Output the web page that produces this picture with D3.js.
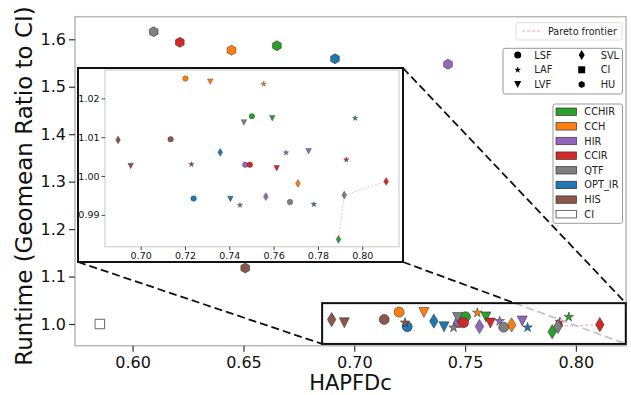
<!DOCTYPE html>
<html>
<head>
<meta charset="utf-8">
<script src="https://cdn.jsdelivr.net/npm/d3@7"></script>
<style>
  body { margin: 0; background: #fff; }
  svg { font-family: "DejaVu Sans", sans-serif; }
</style>
</head>
<body>
<svg id="chart" width="631" height="395"></svg>
<script>
// methods (colour groups) and strategies (marker shapes)
const methods = ["CCHIR", "CCH", "HIR", "CCIR", "QTF", "OPT_IR", "HIS"];
const strategies = ["LSF", "LAF", "LVF", "SVL", "HU"];

// values per strategy, in the order of `methods`
const hapfdLSF   = [0.7502, 0.7202, 0.7472, 0.7493, 0.7674, 0.7239, 0.7135];
const runtimeLSF = [1.0154, 1.0251, 1.0029, 1.0029, 0.9933, 0.9942, 1.0095];
const hapfdLAF   = [0.7968, 0.7555, 0.7656, 0.7928, 0.7448, 0.7782, 0.7229];
const runtimeLAF = [1.0149, 1.0237, 1.0060, 1.0042, 0.9925, 0.9927, 1.0030];
const hapfdLVF   = [0.7594, 0.7314, 0.7758, 0.7614, 0.7466, 0.7405, 0.6955];
const runtimeLVF = [1.0149, 1.0243, 1.0064, 1.0020, 1.0138, 0.9941, 1.0026];
const hapfdSVL   = [0.7893, 0.7710, 0.7565, 0.8108, 0.7919, 0.7359, 0.6898];
const runtimeSVL = [0.9837, 0.9981, 0.9947, 0.9986, 0.9951, 1.0061, 1.0093];
const hapfdHU    = [0.6651, 0.6446, 0.7423, 0.6213, 0.6095, 0.6913, 0.6508];
const runtimeHU  = [1.5865, 1.5770, 1.5475, 1.5935, 1.6160, 1.5590, 1.1180];
// the CI baseline
const hapfdCI = 0.5852;
const runtimeCI = 1.0;

const xTicks = [0.60, 0.65, 0.70, 0.75, 0.80];
const yTicks = [1.0, 1.1, 1.2, 1.3, 1.4, 1.5, 1.6];
const insetXTicks = [0.70, 0.72, 0.74, 0.76, 0.78, 0.80];
const insetYTicks = [0.99, 1.00, 1.01, 1.02];

// styles
const methodColors = ["#2ca02c", "#ff7f0e", "#9467bd", "#d62728", "#7f7f7f", "#1f77b4", "#8c564b"];
const shapeOf = {LSF: "o", LAF: "*", LVF: "v", SVL: "d", CI: "s", HU: "h"};

const hapfdBy = {LSF: hapfdLSF, LAF: hapfdLAF, LVF: hapfdLVF, SVL: hapfdSVL, HU: hapfdHU};
const runtimeBy = {LSF: runtimeLSF, LAF: runtimeLAF, LVF: runtimeLVF, SVL: runtimeSVL, HU: runtimeHU};

let points = [];
methods.forEach((m, i) => {
    strategies.forEach(s => {
        points.push({method: m, strategy: s, color: methodColors[i], x: hapfdBy[s][i], y: runtimeBy[s][i]});
    });
});

// pareto frontier: max HAPFDc, min runtime
let frontier = [];
let best = Infinity;
points.slice().sort((a, b) => b.x - a.x).forEach(p => {
    if (p.y < best) { frontier.push(p); best = p.y; }
});
frontier.sort((a, b) => a.x - b.x);

function markerPath(shape, s) {
    const r = s / 2;
    if (shape === "o") {
        const p = d3.path();
        p.arc(0, 0, r, 0, 2 * Math.PI);
        p.closePath();
        return p.toString();
    }
    let pts;
    if (shape === "v") pts = [[-r, -r], [r, -r], [0, r]];
    else if (shape === "s") pts = [[-r, -r], [r, -r], [r, r], [-r, r]];
    else if (shape === "d") {
        const h = s * Math.SQRT1_2;
        pts = [[0, -h], [0.6 * h, 0], [0, h], [-0.6 * h, 0]];
    }
    else if (shape === "h") pts = d3.range(6).map(k => {
        const a = -Math.PI / 2 + k * Math.PI / 3;
        return [r * Math.cos(a), r * Math.sin(a)];
    });
    else pts = d3.range(10).map(k => {
        const a = -Math.PI / 2 + k * Math.PI / 5, rr = k % 2 ? r * 0.381966 : r;
        return [rr * Math.cos(a), rr * Math.sin(a)];
    });
    return "M" + pts.map(q => q[0].toFixed(2) + "," + q[1].toFixed(2)).join("L") + "Z";
}

const svg = d3.select("#chart");

// ---- main axes ----
const x = d3.scaleLinear().domain([0.574, 0.8226]).range([75, 626]);
const y = d3.scaleLinear().domain([0.9543, 1.6476]).range([345.7, 16.7]);

svg.append("rect")
    .attr("x", x.range()[0]).attr("y", y.range()[1])
    .attr("width", x.range()[1] - x.range()[0]).attr("height", y.range()[0] - y.range()[1])
    .attr("fill", "#fff").attr("stroke", "#b8b8b8").attr("stroke-width", 1.5);

const gx = svg.append("g").attr("transform", "translate(0," + y.range()[0] + ")")
    .call(d3.axisBottom(x).tickValues(xTicks).tickFormat(d3.format(".2f")).tickSize(6).tickPadding(5));
const gy = svg.append("g").attr("transform", "translate(" + x.range()[0] + ",0)")
    .call(d3.axisLeft(y).tickValues(yTicks).tickFormat(d3.format(".1f")).tickSize(6).tickPadding(3));
[gx, gy].forEach(g => {
    g.select(".domain").remove();
    g.selectAll(".tick line").attr("stroke", "#333").attr("stroke-width", 1.2);
    g.selectAll("text").attr("font-size", 16).attr("fill", "#111").attr("font-family", "DejaVu Sans");
});

svg.append("text").attr("x", 350.5).attr("y", 390).attr("text-anchor", "middle")
    .attr("font-size", 21).attr("fill", "#111").text("HAPFDc");
svg.append("text").attr("transform", "translate(32,186) rotate(-90)").attr("text-anchor", "middle")
    .attr("font-size", 23).attr("fill", "#111").text("Runtime (Geomean Ratio to CI)");

const line = d3.line().x(d => x(d.x)).y(d => y(d.y));

svg.append("path").datum(frontier).attr("d", line)
    .attr("fill", "none").attr("stroke", "#f08080").attr("stroke-opacity", 0.7)
    .attr("stroke-width", 1).attr("stroke-dasharray", "3,2");

svg.append("g").selectAll("path").data(points).join("path")
    .attr("transform", d => "translate(" + x(d.x) + "," + y(d.y) + ")")
    .attr("d", d => markerPath(shapeOf[d.strategy], 10))
    .attr("fill", d => d.color).attr("stroke", "#222").attr("stroke-width", 0.5);

svg.append("path")
    .attr("transform", "translate(" + x(hapfdCI) + "," + y(runtimeCI) + ")")
    .attr("d", markerPath("s", 9.5))
    .attr("fill", "#fff").attr("stroke", "#444").attr("stroke-width", 0.8);

// ---- zoom indicator ----
const zoomX = [0.6855, 0.8225], zoomY = [0.958, 1.044];
const bx0 = x(zoomX[0]), bx1 = x(zoomX[1]), by0 = y(zoomY[1]), by1 = y(zoomY[0]);
const inset = {x0: 78, y0: 68, x1: 403, y1: 262};

function dashLine(a, b, color) {
    svg.append("line").attr("x1", a[0]).attr("y1", a[1]).attr("x2", b[0]).attr("y2", b[1])
        .attr("stroke", color).attr("stroke-width", 1.8).attr("stroke-dasharray", "8,4");
}
dashLine([inset.x0, inset.y1], [bx0, by1], "#111");
dashLine([inset.x1, inset.y0], [bx1, by0], "#111");
// lower-right connector: black outside the box, grey inside
const t = (by0 - inset.y1) / (by1 - inset.y1);
const mid = [inset.x1 + t * (bx1 - inset.x1), by0];
dashLine([inset.x1, inset.y1], mid, "#111");
dashLine(mid, [bx1, by1], "#c4c4c4");

svg.append("rect").attr("x", bx0).attr("y", by0).attr("width", bx1 - bx0).attr("height", by1 - by0)
    .attr("fill", "none").attr("stroke", "#111").attr("stroke-width", 2);

// ---- inset ----
svg.append("rect").attr("x", inset.x0).attr("y", inset.y0)
    .attr("width", inset.x1 - inset.x0).attr("height", inset.y1 - inset.y0)
    .attr("fill", "#fff").attr("stroke", "#111").attr("stroke-width", 2);

const xi = d3.scaleLinear().domain([0.6839, 0.8166]).range([105, 399]);
const yi = d3.scaleLinear().domain([0.9818, 1.0273]).range([246.7, 70]);

svg.append("rect").attr("x", 105).attr("y", 70).attr("width", 294).attr("height", 176.7)
    .attr("fill", "#fff").attr("stroke", "#d0d0d0").attr("stroke-width", 1.2);

const gxi = svg.append("g").attr("transform", "translate(0," + yi.range()[0] + ")")
    .call(d3.axisBottom(xi).tickValues(insetXTicks).tickFormat(d3.format(".2f")).tickSize(3.5).tickPadding(2));
const gyi = svg.append("g").attr("transform", "translate(" + xi.range()[0] + ",0)")
    .call(d3.axisLeft(yi).tickValues(insetYTicks).tickFormat(d3.format(".2f")).tickSize(3.5).tickPadding(2));
[gxi, gyi].forEach(g => {
    g.select(".domain").remove();
    g.selectAll(".tick line").attr("stroke", "#333").attr("stroke-width", 0.9);
    g.selectAll("text").attr("font-size", 9.5).attr("fill", "#111").attr("font-family", "DejaVu Sans");
});

const linei = d3.line().x(d => xi(d.x)).y(d => yi(d.y));
svg.append("path").datum(frontier).attr("d", linei)
    .attr("fill", "none").attr("stroke", "#f08080").attr("stroke-opacity", 0.6)
    .attr("stroke-width", 0.8).attr("stroke-dasharray", "2,1.5");

svg.append("g").selectAll("path")
    .data(points.filter(d => d.x >= xi.domain()[0] && d.y <= yi.domain()[1] && d.y >= yi.domain()[0]))
    .join("path")
    .attr("transform", d => "translate(" + xi(d.x) + "," + yi(d.y) + ")")
    .attr("d", d => markerPath(shapeOf[d.strategy], 5.5))
    .attr("fill", d => d.color).attr("stroke", "#222").attr("stroke-width", 0.35);

// ---- legends ----
function legendBox(x0, y0, x1, y1, stroke) {
    svg.append("rect").attr("x", x0).attr("y", y0).attr("width", x1 - x0).attr("height", y1 - y0)
        .attr("rx", 2).attr("fill", "#fff").attr("fill-opacity", 0.85)
        .attr("stroke", stroke).attr("stroke-width", 1);
}

legendBox(516, 22.7, 622, 40, "#dcdcdc");
svg.append("line").attr("x1", 522).attr("x2", 541).attr("y1", 31).attr("y2", 31)
    .attr("stroke", "#f08080").attr("stroke-opacity", 0.7).attr("stroke-width", 1).attr("stroke-dasharray", "3,2");
svg.append("text").attr("x", 548).attr("y", 34.5).attr("font-size", 9.6).attr("fill", "#222").text("Pareto frontier");

legendBox(503, 48.3, 622.5, 94, "#999");
const shapeLegend = ["LSF", "LAF", "LVF", "SVL", "CI", "HU"];
shapeLegend.forEach((s, k) => {
    const col = Math.floor(k / 3), row = k % 3;
    const mx = col ? 581.7 : 517.7, my = 55 + row * 14.8;
    svg.append("path").attr("transform", "translate(" + mx + "," + my + ")")
        .attr("d", markerPath(shapeOf[s], 7)).attr("fill", "#000");
    svg.append("text").attr("x", col ? 600.7 : 534.3).attr("y", my + 3.5)
        .attr("font-size", 9.8).attr("fill", "#222").text(s);
});

legendBox(553, 104, 622.5, 223.3, "#999");
const colorLegend = methods.concat(["CI"]);
const colorLegendFill = methodColors.concat(["#fff"]);
colorLegend.forEach((m, k) => {
    const my = 111.7 + k * 14.65;
    svg.append("rect").attr("x", 556).attr("y", my - 3.7).attr("width", 20.5).attr("height", 7.4)
        .attr("fill", colorLegendFill[k]).attr("stroke", "#333").attr("stroke-width", 0.7);
    svg.append("text").attr("x", 584.3).attr("y", my + 3.5)
        .attr("font-size", 9.8).attr("fill", "#222").text(m);
});
</script>
</body>
</html>
